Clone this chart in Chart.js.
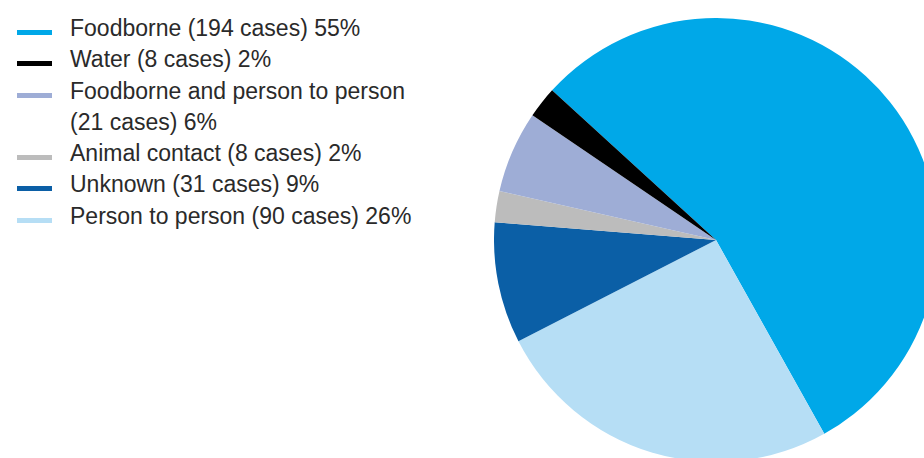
<!DOCTYPE html>
<html>
<head>
<meta charset="utf-8">
<script src="https://cdn.jsdelivr.net/npm/chart.js@4.4.0/dist/chart.umd.min.js"></script>
<style>
    html, body { margin: 0; padding: 0; background: #fff; }
    body { width: 924px; height: 458px; overflow: hidden; position: relative; }
    #legend {
        position: absolute; left: 0; top: 13px;
        font-family: "Liberation Sans", Arial, sans-serif;
        font-size: 23px; line-height: 31.3px; color: #2a2a2a;
    }
    .item { position: relative; padding-left: 70px; width: 360px; }
    .swatch { position: absolute; left: 17px; top: 17px; width: 35px; height: 5px; }
    #wrap { position: absolute; left: 494px; top: 18px; width: 444px; height: 444px; }
</style>
</head>
<body>
<div id="legend"></div>
<div id="wrap"><canvas id="pie" width="444" height="444"></canvas></div>
<script>
// outbreak transmission modes, legend order
const names = ["Foodborne", "Water", "Foodborne and person to person", "Animal contact", "Unknown", "Person to person"];
const cases = [194, 8, 21, 8, 31, 90];
const percents = [55, 2, 6, 2, 9, 26];
const colors = ["#00a8e8", "#000000", "#9eadd6", "#bcbcbc", "#0b5fa6", "#b6def5"];

// slices run clockwise in this order from the top-left
const sliceOrder = [0, 5, 4, 3, 2, 1];

function buildLegend() {
    let legend = document.getElementById("legend");
    for (let i = 0; i < names.length; i++) {
        let item = document.createElement("div");
        item.className = "item";
        let sw = document.createElement("span");
        sw.className = "swatch";
        sw.style.background = colors[i];
        item.appendChild(sw);
        item.appendChild(document.createTextNode(names[i] + " (" + cases[i] + " cases) " + percents[i] + "%"));
        legend.appendChild(item);
    }
}

function createChart(canvas) {
    return new Chart(canvas, {
        type: "pie",
        data: {
            labels: sliceOrder.map(i => names[i]),
            datasets: [{
                data: sliceOrder.map(i => cases[i]),
                backgroundColor: sliceOrder.map(i => colors[i]),
                borderWidth: 0
            }]
        },
        options: {
            responsive: false,
            animation: false,
            rotation: 312.4,
            layout: { padding: 0 },
            plugins: {
                legend: { display: false },
                tooltip: { enabled: false }
            }
        }
    });
}

buildLegend();
createChart(document.getElementById("pie"));
</script>
</body>
</html>
